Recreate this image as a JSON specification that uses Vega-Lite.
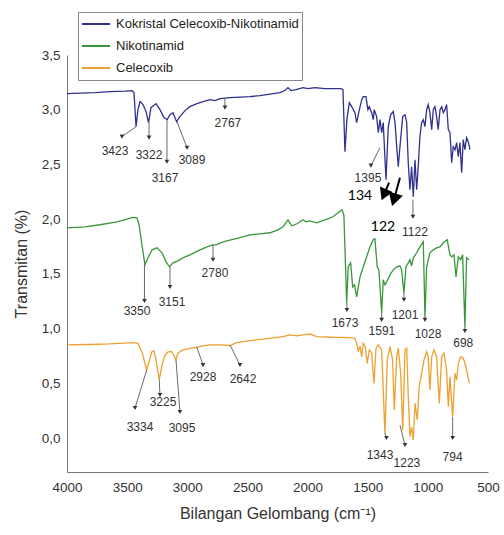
{
"$schema":"https://vega.github.io/schema/vega-lite/v6.json",
"width":421,"height":417,
"autosize":{"type":"none"},
"padding":{"left":67,"top":55,"right":16,"bottom":63},
"config":{"view":{"stroke":null},"font":"Liberation Sans",
"axis":{"grid":false,"ticks":false,"domainColor":"#777","domainWidth":1,"labelColor":"#333","labelFontSize":13.5,"titleColor":"#333","titleFontSize":16,"titleFontWeight":"normal"}},
"datasets":{
"blue":[{"wn":4000,"T":3.147},{"wn":3892,"T":3.152},{"wn":3767,"T":3.156},{"wn":3643,"T":3.166},{"wn":3518,"T":3.17},{"wn":3460,"T":3.175},{"wn":3443,"T":3.156},{"wn":3426,"T":2.845},{"wn":3410,"T":3.001},{"wn":3393,"T":3.074},{"wn":3368,"T":3.047},{"wn":3343,"T":2.983},{"wn":3322,"T":2.882},{"wn":3302,"T":3.019},{"wn":3260,"T":3.056},{"wn":3227,"T":3.001},{"wn":3194,"T":2.928},{"wn":3167,"T":2.909},{"wn":3144,"T":2.955},{"wn":3119,"T":2.973},{"wn":3089,"T":2.891},{"wn":3061,"T":2.937},{"wn":3019,"T":2.992},{"wn":2978,"T":3.028},{"wn":2919,"T":3.056},{"wn":2869,"T":3.074},{"wn":2811,"T":3.092},{"wn":2770,"T":3.083},{"wn":2728,"T":3.102},{"wn":2645,"T":3.111},{"wn":2562,"T":3.115},{"wn":2479,"T":3.12},{"wn":2396,"T":3.129},{"wn":2313,"T":3.143},{"wn":2230,"T":3.156},{"wn":2188,"T":3.175},{"wn":2163,"T":3.202},{"wn":2138,"T":3.175},{"wn":2096,"T":3.184},{"wn":2038,"T":3.202},{"wn":1997,"T":3.193},{"wn":1939,"T":3.202},{"wn":1856,"T":3.193},{"wn":1772,"T":3.193},{"wn":1722,"T":3.193},{"wn":1706,"T":3.184},{"wn":1689,"T":2.617},{"wn":1673,"T":2.909},{"wn":1653,"T":3.065},{"wn":1633,"T":3.028},{"wn":1606,"T":2.973},{"wn":1592,"T":2.882},{"wn":1573,"T":2.983},{"wn":1550,"T":3.092},{"wn":1537,"T":3.12},{"wn":1515,"T":3.12},{"wn":1498,"T":3.001},{"wn":1487,"T":3.028},{"wn":1467,"T":2.973},{"wn":1454,"T":2.909},{"wn":1446,"T":3.001},{"wn":1426,"T":2.937},{"wn":1412,"T":2.79},{"wn":1398,"T":2.909},{"wn":1384,"T":2.79},{"wn":1371,"T":2.882},{"wn":1348,"T":2.36},{"wn":1329,"T":2.845},{"wn":1309,"T":2.955},{"wn":1288,"T":2.983},{"wn":1273,"T":2.882},{"wn":1259,"T":2.662},{"wn":1246,"T":2.479},{"wn":1232,"T":2.662},{"wn":1209,"T":2.937},{"wn":1190,"T":2.955},{"wn":1176,"T":2.882},{"wn":1163,"T":2.516},{"wn":1149,"T":2.269},{"wn":1135,"T":2.479},{"wn":1121,"T":2.205},{"wn":1107,"T":2.543},{"wn":1093,"T":2.269},{"wn":1080,"T":2.479},{"wn":1066,"T":2.754},{"wn":1052,"T":2.882},{"wn":1038,"T":2.909},{"wn":1024,"T":2.845},{"wn":1010,"T":3.001},{"wn":997,"T":3.047},{"wn":983,"T":2.973},{"wn":968,"T":2.818},{"wn":955,"T":3.001},{"wn":941,"T":3.028},{"wn":927,"T":2.937},{"wn":914,"T":2.818},{"wn":899,"T":3.001},{"wn":885,"T":3.028},{"wn":872,"T":2.973},{"wn":858,"T":3.001},{"wn":844,"T":3.047},{"wn":830,"T":2.818},{"wn":816,"T":2.79},{"wn":802,"T":2.516},{"wn":789,"T":2.662},{"wn":774,"T":2.635},{"wn":761,"T":2.699},{"wn":747,"T":2.571},{"wn":733,"T":2.699},{"wn":719,"T":2.424},{"wn":706,"T":2.726},{"wn":692,"T":2.635},{"wn":678,"T":2.745},{"wn":664,"T":2.708},{"wn":650,"T":2.635}],
"green":[{"wn":4000,"T":1.921},{"wn":3850,"T":1.93},{"wn":3726,"T":1.949},{"wn":3584,"T":1.976},{"wn":3451,"T":2.017},{"wn":3418,"T":2.013},{"wn":3401,"T":1.949},{"wn":3377,"T":1.766},{"wn":3352,"T":1.583},{"wn":3327,"T":1.647},{"wn":3293,"T":1.72},{"wn":3252,"T":1.738},{"wn":3210,"T":1.693},{"wn":3177,"T":1.61},{"wn":3148,"T":1.565},{"wn":3119,"T":1.601},{"wn":3077,"T":1.619},{"wn":3036,"T":1.647},{"wn":2978,"T":1.674},{"wn":2894,"T":1.72},{"wn":2836,"T":1.747},{"wn":2786,"T":1.766},{"wn":2761,"T":1.766},{"wn":2703,"T":1.793},{"wn":2603,"T":1.821},{"wn":2479,"T":1.857},{"wn":2396,"T":1.866},{"wn":2313,"T":1.876},{"wn":2246,"T":1.903},{"wn":2204,"T":1.93},{"wn":2163,"T":1.994},{"wn":2132,"T":1.94},{"wn":2088,"T":1.958},{"wn":2038,"T":1.994},{"wn":2013,"T":1.976},{"wn":1980,"T":1.985},{"wn":1924,"T":1.967},{"wn":1855,"T":1.994},{"wn":1789,"T":2.022},{"wn":1747,"T":2.059},{"wn":1714,"T":2.086},{"wn":1698,"T":2.04},{"wn":1675,"T":1.235},{"wn":1662,"T":1.565},{"wn":1642,"T":1.601},{"wn":1625,"T":1.381},{"wn":1610,"T":1.4},{"wn":1592,"T":1.29},{"wn":1564,"T":1.473},{"wn":1537,"T":1.565},{"wn":1509,"T":1.656},{"wn":1481,"T":1.747},{"wn":1454,"T":1.812},{"wn":1440,"T":1.821},{"wn":1421,"T":1.565},{"wn":1407,"T":1.537},{"wn":1384,"T":1.144},{"wn":1371,"T":1.446},{"wn":1357,"T":1.4},{"wn":1342,"T":1.427},{"wn":1315,"T":1.491},{"wn":1288,"T":1.537},{"wn":1259,"T":1.565},{"wn":1232,"T":1.574},{"wn":1218,"T":1.537},{"wn":1199,"T":1.327},{"wn":1182,"T":1.565},{"wn":1163,"T":1.601},{"wn":1149,"T":1.629},{"wn":1135,"T":1.574},{"wn":1121,"T":1.647},{"wn":1093,"T":1.693},{"wn":1066,"T":1.747},{"wn":1038,"T":1.793},{"wn":1024,"T":1.107},{"wn":1010,"T":1.565},{"wn":997,"T":1.629},{"wn":983,"T":1.693},{"wn":955,"T":1.72},{"wn":927,"T":1.738},{"wn":899,"T":1.747},{"wn":872,"T":1.784},{"wn":839,"T":1.812},{"wn":816,"T":1.674},{"wn":802,"T":1.656},{"wn":783,"T":1.674},{"wn":766,"T":1.473},{"wn":747,"T":1.656},{"wn":727,"T":1.629},{"wn":711,"T":1.674},{"wn":692,"T":1.016},{"wn":678,"T":1.647},{"wn":656,"T":1.629}],
"orange":[{"wn":4000,"T":0.851},{"wn":3809,"T":0.855},{"wn":3643,"T":0.86},{"wn":3451,"T":0.872},{"wn":3410,"T":0.865},{"wn":3377,"T":0.787},{"wn":3337,"T":0.622},{"wn":3318,"T":0.695},{"wn":3296,"T":0.787},{"wn":3277,"T":0.796},{"wn":3260,"T":0.714},{"wn":3233,"T":0.531},{"wn":3210,"T":0.668},{"wn":3185,"T":0.759},{"wn":3160,"T":0.787},{"wn":3130,"T":0.791},{"wn":3094,"T":0.714},{"wn":3077,"T":0.778},{"wn":3036,"T":0.805},{"wn":2978,"T":0.819},{"wn":2922,"T":0.828},{"wn":2869,"T":0.842},{"wn":2811,"T":0.851},{"wn":2728,"T":0.851},{"wn":2645,"T":0.846},{"wn":2589,"T":0.872},{"wn":2479,"T":0.89},{"wn":2354,"T":0.906},{"wn":2204,"T":0.927},{"wn":2146,"T":0.942},{"wn":2088,"T":0.933},{"wn":2038,"T":0.942},{"wn":1980,"T":0.951},{"wn":1924,"T":0.927},{"wn":1789,"T":0.921},{"wn":1689,"T":0.919},{"wn":1631,"T":0.915},{"wn":1606,"T":0.912},{"wn":1592,"T":0.866},{"wn":1579,"T":0.79},{"wn":1564,"T":0.842},{"wn":1550,"T":0.744},{"wn":1537,"T":0.866},{"wn":1520,"T":0.833},{"wn":1504,"T":0.683},{"wn":1487,"T":0.805},{"wn":1467,"T":0.778},{"wn":1448,"T":0.5},{"wn":1431,"T":0.821},{"wn":1412,"T":0.851},{"wn":1384,"T":0.805},{"wn":1357,"T":0.043},{"wn":1337,"T":0.714},{"wn":1315,"T":0.835},{"wn":1293,"T":0.714},{"wn":1279,"T":0.256},{"wn":1259,"T":0.744},{"wn":1246,"T":0.821},{"wn":1226,"T":0.595},{"wn":1209,"T":0.073},{"wn":1190,"T":0.805},{"wn":1176,"T":0.821},{"wn":1163,"T":0.378},{"wn":1149,"T":0.012},{"wn":1135,"T":0.101},{"wn":1121,"T":-0.018},{"wn":1107,"T":0.317},{"wn":1088,"T":0.165},{"wn":1072,"T":0.469},{"wn":1052,"T":0.592},{"wn":1032,"T":0.714},{"wn":1010,"T":0.79},{"wn":997,"T":0.741},{"wn":983,"T":0.439},{"wn":968,"T":0.744},{"wn":949,"T":0.805},{"wn":927,"T":0.741},{"wn":905,"T":0.317},{"wn":885,"T":0.744},{"wn":866,"T":0.775},{"wn":844,"T":0.622},{"wn":830,"T":0.286},{"wn":816,"T":0.561},{"wn":794,"T":0.195},{"wn":774,"T":0.592},{"wn":761,"T":0.531},{"wn":747,"T":0.683},{"wn":727,"T":0.744},{"wn":706,"T":0.729},{"wn":692,"T":0.686},{"wn":678,"T":0.622},{"wn":656,"T":0.5}],
"ann":[
{"label":"3423","wa":3426,"ta":2.845,"wb":3543,"tb":2.754,"wl":3601,"tl":2.626},
{"label":"3322","wa":3318,"ta":2.882,"wb":3318,"tb":2.745,"wl":3318,"tl":2.589},
{"label":"3167","wa":3169,"ta":2.909,"wb":3169,"tb":2.525,"wl":3185,"tl":2.379},
{"label":"3089","wa":3086,"ta":2.891,"wb":3002,"tb":2.653,"wl":2961,"tl":2.543},
{"label":"2767","wa":2687,"ta":3.102,"wb":2687,"tb":3.019,"wl":2662,"tl":2.882},
{"label":"1395","wa":1398,"ta":2.653,"wb":1473,"tb":2.489,"wl":1498,"tl":2.379},
{"label":"1122","wa":1124,"ta":2.177,"wb":1124,"tb":2.022,"wl":1107,"tl":1.885},
{"label":"3350","wa":3356,"ta":1.583,"wb":3356,"tb":1.253,"wl":3418,"tl":1.162},
{"label":"3151","wa":3144,"ta":1.565,"wb":3144,"tb":1.381,"wl":3127,"tl":1.244},
{"label":"2780","wa":2786,"ta":1.766,"wb":2786,"tb":1.629,"wl":2770,"tl":1.51},
{"label":"1673","wa":1673,"ta":1.235,"wb":1673,"tb":1.171,"wl":1689,"tl":1.052},
{"label":"1591","wa":1384,"ta":1.144,"wb":1384,"tb":1.08,"wl":1382,"tl":0.979},
{"label":"1201","wa":1199,"ta":1.327,"wb":1199,"tb":1.263,"wl":1190,"tl":1.125},
{"label":"1028","wa":1024,"ta":1.107,"wb":1024,"tb":1.08,"wl":999,"tl":0.951},
{"label":"698","wa":692,"ta":1.016,"wb":692,"tb":0.979,"wl":706,"tl":0.869},
{"label":"3334","wa":3337,"ta":0.622,"wb":3435,"tb":0.274,"wl":3393,"tl":0.101},
{"label":"3225","wa":3233,"ta":0.531,"wb":3227,"tb":0.393,"wl":3202,"tl":0.329},
{"label":"3095","wa":3094,"ta":0.714,"wb":3061,"tb":0.238,"wl":3044,"tl":0.091},
{"label":"2928","wa":2922,"ta":0.833,"wb":2869,"tb":0.668,"wl":2869,"tl":0.558},
{"label":"2642","wa":2645,"ta":0.851,"wb":2562,"tb":0.668,"wl":2537,"tl":0.54},
{"label":"1343","wa":1357,"ta":0.046,"wb":1344,"tb":0.0,"wl":1398,"tl":-0.156},
{"label":"1223","wa":1232,"ta":0.119,"wb":1190,"tb":-0.064,"wl":1174,"tl":-0.229},
{"label":"794","wa":794,"ta":0.192,"wb":794,"tb":0.0,"wl":794,"tl":-0.174}],
"black":[{"label":"134","w":1564,"t":2.214},{"label":"122","w":1373,"t":1.93}],
"shafts":[{"wa":1323,"ta":2.333,"wb":1365,"tb":2.223},{"wa":1232,"ta":2.379,"wb":1282,"tb":2.177}]
},
"layer":[
{"data":{"name":"blue"},"mark":{"type":"line","strokeWidth":1.3},
"encoding":{"x":{"field":"wn","type":"quantitative","title":"Bilangan Gelombang (cm⁻¹)","scale":{"domain":[500,4000],"reverse":true,"nice":false,"zero":false},"axis":{"values":[4000,3500,3000,2500,2000,1500,1000,500],"format":"d","labelFlush":false,"labelPadding":8,"titlePadding":12}},
"y":{"field":"T","type":"quantitative","title":"Transmitan (%)","scale":{"domain":[-0.31,3.5],"nice":false,"zero":false},"axis":{"values":[0,0.5,1,1.5,2,2.5,3,3.5],"labelExpr":"replace(format(datum.value,'.1f'),'.',',')","labelPadding":7,"titlePadding":12}},
"color":{"datum":"Kokristal Celecoxib-Nikotinamid","type":"nominal","scale":{"domain":["Kokristal Celecoxib-Nikotinamid","Nikotinamid","Celecoxib"],"range":["#30308f","#3a963a","#eea030"]},
"legend":{"title":null,"orient":"none","legendX":11,"legendY":-43,"strokeColor":"#888","padding":3,"symbolType":"stroke","symbolSize":784,"symbolStrokeWidth":2,"labelFontSize":13,"labelColor":"#222","labelLimit":0,"clipHeight":18,"rowPadding":4,"labelOffset":5}}}},
{"data":{"name":"green"},"mark":{"type":"line","strokeWidth":1.3},
"encoding":{"x":{"field":"wn","type":"quantitative","title":"Bilangan Gelombang (cm⁻¹)","scale":{"domain":[500,4000],"reverse":true,"nice":false,"zero":false}},"y":{"field":"T","type":"quantitative","title":"Transmitan (%)","scale":{"domain":[-0.31,3.5],"nice":false,"zero":false}},"color":{"datum":"Nikotinamid","type":"nominal"}}},
{"data":{"name":"orange"},"mark":{"type":"line","strokeWidth":1.3},
"encoding":{"x":{"field":"wn","type":"quantitative","title":"Bilangan Gelombang (cm⁻¹)","scale":{"domain":[500,4000],"reverse":true,"nice":false,"zero":false}},"y":{"field":"T","type":"quantitative","title":"Transmitan (%)","scale":{"domain":[-0.31,3.5],"nice":false,"zero":false}},"color":{"datum":"Celecoxib","type":"nominal"}}},
{"data":{"name":"ann"},"mark":{"type":"rule","color":"#444","strokeWidth":0.8},
"encoding":{"x":{"field":"wa","type":"quantitative","title":"Bilangan Gelombang (cm⁻¹)","scale":{"domain":[500,4000],"reverse":true,"nice":false,"zero":false}},"y":{"field":"ta","type":"quantitative","title":"Transmitan (%)","scale":{"domain":[-0.31,3.5],"nice":false,"zero":false}},"x2":{"field":"wb"},"y2":{"field":"tb"}}},
{"data":{"name":"ann"},"mark":{"type":"point","shape":"triangle-down","filled":true,"size":22,"color":"#333","opacity":1},
"encoding":{"x":{"field":"wb","type":"quantitative","title":"Bilangan Gelombang (cm⁻¹)","scale":{"domain":[500,4000],"reverse":true,"nice":false,"zero":false}},"y":{"field":"tb","type":"quantitative","title":"Transmitan (%)","scale":{"domain":[-0.31,3.5],"nice":false,"zero":false}}}},
{"data":{"name":"ann"},"mark":{"type":"text","fontSize":12,"color":"#333"},
"encoding":{"x":{"field":"wl","type":"quantitative","title":"Bilangan Gelombang (cm⁻¹)","scale":{"domain":[500,4000],"reverse":true,"nice":false,"zero":false}},"y":{"field":"tl","type":"quantitative","title":"Transmitan (%)","scale":{"domain":[-0.31,3.5],"nice":false,"zero":false}},"text":{"field":"label"}}},
{"data":{"name":"shafts"},"mark":{"type":"rule","color":"#000","strokeWidth":2},
"encoding":{"x":{"field":"wa","type":"quantitative","title":"Bilangan Gelombang (cm⁻¹)","scale":{"domain":[500,4000],"reverse":true,"nice":false,"zero":false}},"y":{"field":"ta","type":"quantitative","title":"Transmitan (%)","scale":{"domain":[-0.31,3.5],"nice":false,"zero":false}},"x2":{"field":"wb"},"y2":{"field":"tb"}}},
{"data":{"values":[{"w":1365,"t":2.223}]},"mark":{"type":"point","shape":"triangle-down","filled":true,"size":190,"color":"#000","opacity":1,"angle":23},
"encoding":{"x":{"field":"w","type":"quantitative","title":"Bilangan Gelombang (cm⁻¹)","scale":{"domain":[500,4000],"reverse":true,"nice":false,"zero":false}},"y":{"field":"t","type":"quantitative","title":"Transmitan (%)","scale":{"domain":[-0.31,3.5],"nice":false,"zero":false}}}},
{"data":{"values":[{"w":1282,"t":2.177}]},"mark":{"type":"point","shape":"triangle-down","filled":true,"size":220,"color":"#000","opacity":1,"angle":17},
"encoding":{"x":{"field":"w","type":"quantitative","title":"Bilangan Gelombang (cm⁻¹)","scale":{"domain":[500,4000],"reverse":true,"nice":false,"zero":false}},"y":{"field":"t","type":"quantitative","title":"Transmitan (%)","scale":{"domain":[-0.31,3.5],"nice":false,"zero":false}}}},
{"data":{"name":"black"},"mark":{"type":"text","font":"Lato","fontSize":14,"color":"#000"},
"encoding":{"x":{"field":"w","type":"quantitative","title":"Bilangan Gelombang (cm⁻¹)","scale":{"domain":[500,4000],"reverse":true,"nice":false,"zero":false}},"y":{"field":"t","type":"quantitative","title":"Transmitan (%)","scale":{"domain":[-0.31,3.5],"nice":false,"zero":false}},"text":{"field":"label"}}}
]
}
